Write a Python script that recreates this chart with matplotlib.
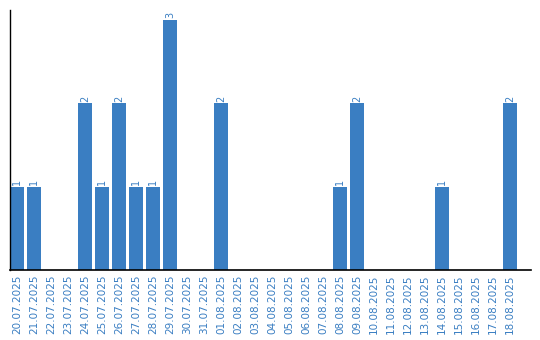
import matplotlib.pyplot as plt

dates = [
    "20.07.2025", "21.07.2025", "22.07.2025", "23.07.2025", "24.07.2025",
    "25.07.2025", "26.07.2025", "27.07.2025", "28.07.2025", "29.07.2025",
    "30.07.2025", "31.07.2025", "01.08.2025", "02.08.2025", "03.08.2025",
    "04.08.2025", "05.08.2025", "06.08.2025", "07.08.2025", "08.08.2025",
    "09.08.2025", "10.08.2025", "11.08.2025", "12.08.2025", "13.08.2025",
    "14.08.2025", "15.08.2025", "16.08.2025", "17.08.2025", "18.08.2025",
]
counts = [1, 1, 0, 0, 2, 1, 2, 1, 1, 3,
          0, 0, 2, 0, 0, 0, 0, 0, 0, 1,
          2, 0, 0, 0, 0, 1, 0, 0, 0, 2]

blue = "#3a7ec2"

fig = plt.figure(figsize=(5.4, 3.4), dpi=100)
ax = fig.add_axes([10 / 540, 70 / 340, 521 / 540, 260 / 340])

x = range(len(dates))
ax.bar(x, counts, width=0.82, color=blue)

for i, c in enumerate(counts):
    if c > 0:
        ax.text(i, c + 0.02, str(c), rotation=90, ha="center", va="bottom",
                color=blue, fontsize=7)

ax.set_xlim(-0.41, 30.24)
ax.set_ylim(0, 3.12)
ax.set_xticks(list(x))
ax.set_xticklabels(dates, rotation=90, color=blue, fontsize=7.5)
ax.tick_params(axis="x", length=0, pad=3)
ax.set_yticks([])
for side in ["top", "right"]:
    ax.spines[side].set_visible(False)
ax.spines["left"].set_linewidth(1.0)
ax.spines["bottom"].set_linewidth(1.2)

fig.savefig("out.png", dpi=100)
